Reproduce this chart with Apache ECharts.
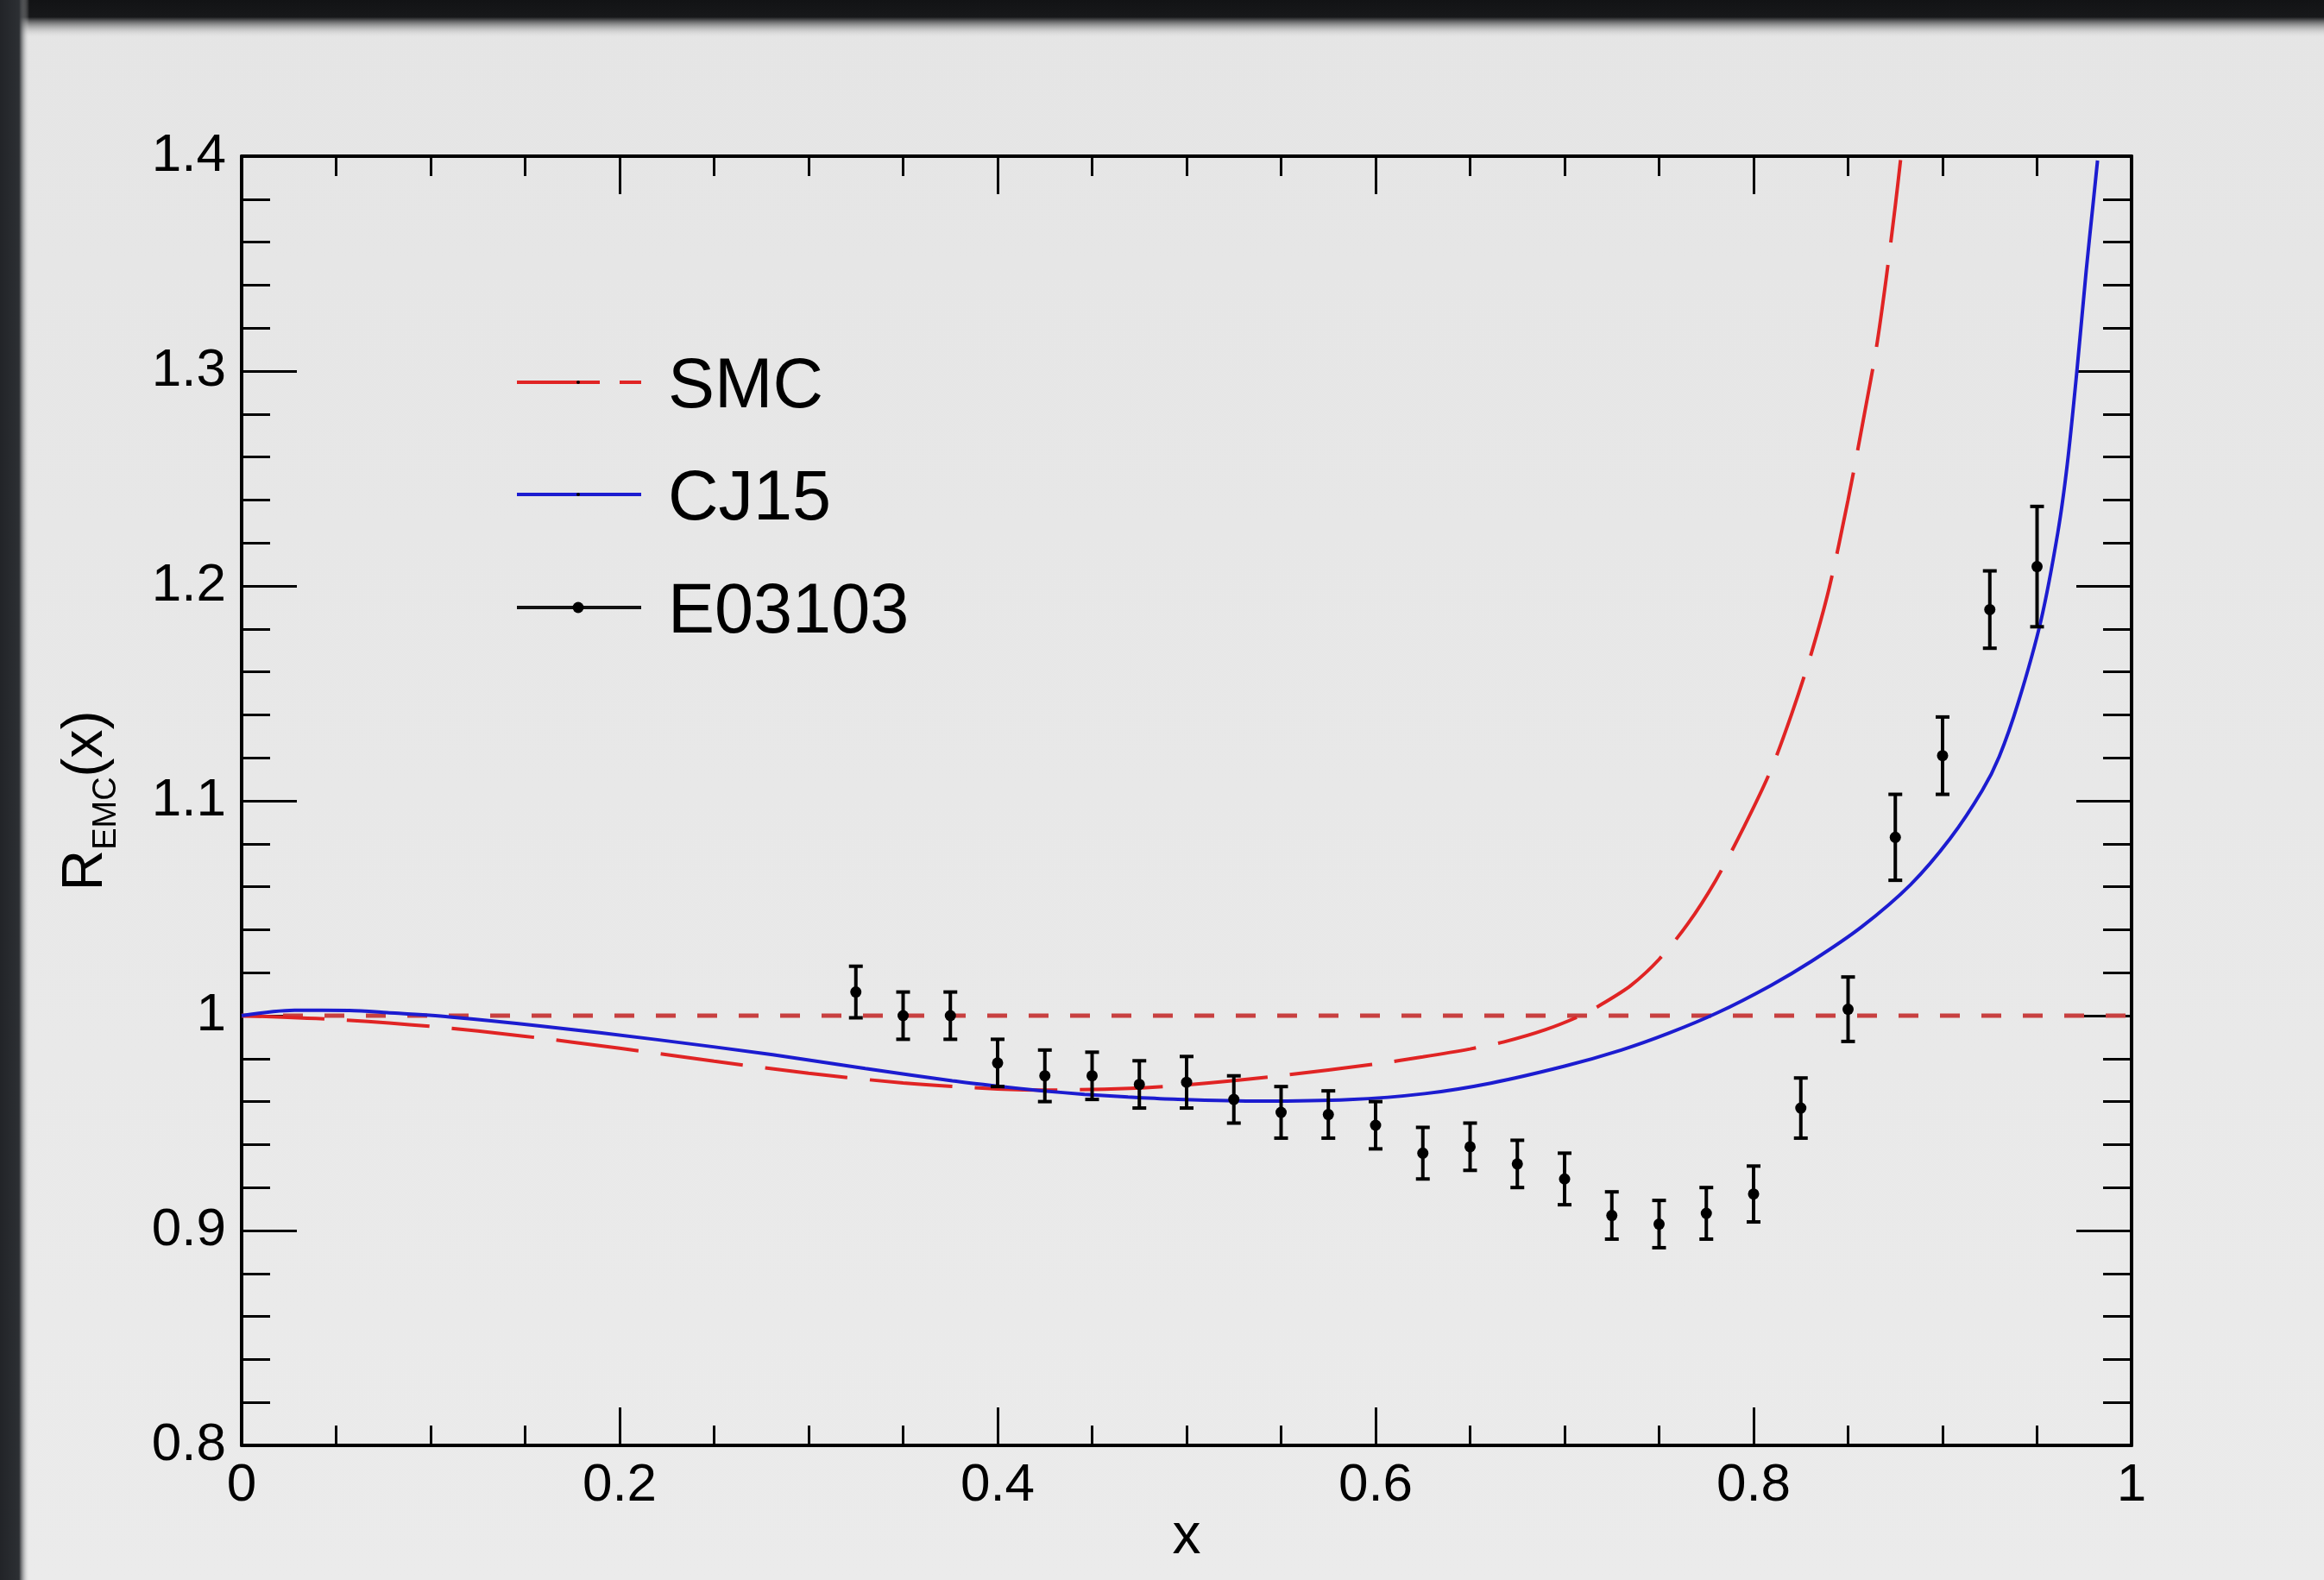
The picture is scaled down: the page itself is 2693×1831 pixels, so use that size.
<!DOCTYPE html>
<html>
<head>
<meta charset="utf-8">
<script src="https://cdn.jsdelivr.net/npm/echarts@6/dist/echarts.min.js"></script>
<style>
  html, body { margin: 0; padding: 0; background: #e8e8e8; }
  #chart { width: 2693px; height: 1831px; }
</style>
</head>
<body>
<div id="chart"></div>
<script>
// R_EMC(x) : SMC / CJ15 curves and E03103 data

const FONT = 'Liberation Sans, Arial, Helvetica, sans-serif';

// SMC curve
const smcX = [0, 0.05, 0.1, 0.15, 0.2, 0.25, 0.3, 0.35, 0.4, 0.43, 0.47, 0.5, 0.55, 0.6, 0.625, 0.65, 0.668, 0.69, 0.709, 0.72, 0.735, 0.75, 0.765, 0.78, 0.795, 0.809, 0.82, 0.83, 0.84, 0.85, 0.858, 0.865, 0.87, 0.875, 0.878];
const smcY = [1.000, 0.9982, 0.9950, 0.9904, 0.9848, 0.9788, 0.9732, 0.9687, 0.9659, 0.9654, 0.9662, 0.9678, 0.9721, 0.9775, 0.9808, 0.9845, 0.9878, 0.9935, 1.0002, 1.0055, 1.0140, 1.0262, 1.0425, 1.0630, 1.0880, 1.1140, 1.1400, 1.1670, 1.1990, 1.2400, 1.2770, 1.3110, 1.3420, 1.3770, 1.4000];

// CJ15 curve
const cjX = [0, 0.028, 0.057, 0.077, 0.110, 0.159, 0.220, 0.281, 0.330, 0.376, 0.400, 0.423, 0.446, 0.469, 0.493, 0.539, 0.586, 0.626, 0.661, 0.700, 0.730, 0.755, 0.781, 0.809, 0.831, 0.857, 0.883, 0.904, 0.921, 0.930, 0.940, 0.952, 0.961, 0.966, 0.971, 0.976, 0.980, 0.982];
const cjY = [1.000, 1.0025, 1.0024, 1.0014, 0.9994, 0.9951, 0.9888, 0.9818, 0.9754, 0.9697, 0.9672, 0.9651, 0.9634, 0.9621, 0.9611, 0.9602, 0.9609, 0.9637, 0.9686, 0.9765, 0.9840, 0.9918, 1.0014, 1.0140, 1.0255, 1.0412, 1.0609, 1.0824, 1.1048, 1.1206, 1.1456, 1.1837, 1.2249, 1.2567, 1.2993, 1.3467, 1.3808, 1.3980];

// E03103 data points with errors
const dataX = [0.325, 0.350, 0.375, 0.400, 0.425, 0.450, 0.475, 0.500, 0.525, 0.550, 0.575, 0.600, 0.625, 0.650, 0.675, 0.700, 0.725, 0.750, 0.775, 0.800, 0.825, 0.850, 0.875, 0.900, 0.925, 0.950];
const dataY = [1.011, 1.000, 1.000, 0.978, 0.972, 0.972, 0.968, 0.969, 0.961, 0.955, 0.954, 0.949, 0.936, 0.939, 0.931, 0.924, 0.907, 0.903, 0.908, 0.917, 0.957, 1.003, 1.083, 1.121, 1.189, 1.209];
const dataErr = [0.012, 0.011, 0.011, 0.011, 0.012, 0.011, 0.011, 0.012, 0.011, 0.012, 0.011, 0.011, 0.012, 0.011, 0.011, 0.012, 0.011, 0.011, 0.012, 0.013, 0.014, 0.015, 0.020, 0.018, 0.018, 0.028];

// reference line R = 1
const refX = [0, 1];
const refY = [1, 1];

const legendNames = ['SMC', 'CJ15', 'E03103'];

const zip = (xs, ys) => xs.map((x, i) => [x, ys[i]]);

const chart = echarts.init(document.getElementById('chart'));

function xAxisCfg(pos) {
    return {
        type: 'value', position: pos, min: 0, max: 1, interval: 0.2,
        axisLine: { show: true, onZero: false, lineStyle: { color: '#000', width: 4 } },
        axisTick: { show: true, inside: true, length: 44, lineStyle: { color: '#000', width: 3 } },
        minorTick: { show: true, splitNumber: 4, length: 23, lineStyle: { color: '#000', width: 3 } },
        axisLabel: { show: pos === 'bottom', color: '#000', fontSize: 62, fontFamily: FONT, margin: 16 },
        splitLine: { show: false },
        name: pos === 'bottom' ? 'x' : '',
        nameLocation: 'middle', nameGap: 74, nameMoveOverlap: false,
        nameTextStyle: { color: '#000', fontSize: 66, fontFamily: FONT }
    };
}

function yAxisCfg(pos) {
    return {
        type: 'value', position: pos, min: 0.8, max: 1.4, interval: 0.1,
        axisLine: { show: true, onZero: false, lineStyle: { color: '#000', width: 4 } },
        axisTick: { show: true, inside: true, length: 64, lineStyle: { color: '#000', width: 3 } },
        minorTick: { show: true, splitNumber: 5, length: 33, lineStyle: { color: '#000', width: 3 } },
        axisLabel: { show: pos === 'left', color: '#000', fontSize: 62, fontFamily: FONT, margin: 18 },
        splitLine: { show: false },
        name: pos === 'left' ? '{a|R}{b|EMC}{a|(x)}' : '',
        nameLocation: 'middle', nameRotate: 90, nameGap: 137,
        nameTextStyle: {
            color: '#000', fontFamily: FONT,
            rich: {
                a: { fontSize: 66, lineHeight: 86, fontFamily: FONT, color: '#000' },
                b: { fontSize: 38, lineHeight: 34, verticalAlign: 'bottom', fontFamily: FONT, color: '#000' }
            }
        }
    };
}

// legend drawn by hand (row positions in px)
const legendRows = [443, 573, 704];
const legendGraphics = [];
legendNames.forEach((name, i) => {
    const y = legendRows[i];
    let lineStyle;
    if (i === 0) lineStyle = { stroke: '#e02424', lineWidth: 4, lineDash: [96, 23] };
    else if (i === 1) lineStyle = { stroke: '#1c1cd0', lineWidth: 4 };
    else lineStyle = { stroke: '#111', lineWidth: 4 };
    legendGraphics.push({ type: 'line', shape: { x1: 599, y1: y, x2: 743, y2: y }, style: lineStyle });
    legendGraphics.push({ type: 'circle', shape: { cx: 670, cy: y, r: i === 2 ? 6.5 : 2 }, style: { fill: '#000' } });
    legendGraphics.push({
        type: 'text', left: 774, top: y - 34,
        style: { text: name, fill: '#000', font: '81px ' + FONT, verticalAlign: 'top' }
    });
});

// screenshot frame (dark edges)
const frame = [
    { type: 'rect', shape: { x: 0, y: 0, width: 2693, height: 44 }, z: 100,
      style: { fill: new echarts.graphic.LinearGradient(0, 0, 0, 1, [
          { offset: 0, color: '#121315' }, { offset: 0.45, color: '#17181a' }, { offset: 1, color: 'rgba(230,230,230,0)' }]) } },
    { type: 'rect', shape: { x: 0, y: 0, width: 34, height: 1831 }, z: 100,
      style: { fill: new echarts.graphic.LinearGradient(0, 0, 1, 0, [
          { offset: 0, color: '#222428' }, { offset: 0.65, color: '#2c2f33' }, { offset: 1, color: 'rgba(230,230,230,0)' }]) } }
];

chart.setOption({
    animation: false,
    backgroundColor: new echarts.graphic.LinearGradient(0, 0, 0, 1, [
        { offset: 0, color: '#e5e5e5' }, { offset: 1, color: '#ebebeb' }]),
    grid: { left: 280, right: 223, top: 181, bottom: 156 },
    xAxis: [xAxisCfg('bottom'), xAxisCfg('top')],
    yAxis: [yAxisCfg('left'), yAxisCfg('right')],
    graphic: legendGraphics.concat(frame),
    series: [
        {
            name: 'ref', type: 'line', data: zip(refX, refY), symbol: 'none', z: 1,
            lineStyle: { color: '#c84040', width: 5, type: [23, 25] }
        },
        {
            name: 'SMC', type: 'line', data: zip(smcX, smcY), symbol: 'none', z: 2,
            smooth: 0.3,
            lineStyle: { color: '#e02424', width: 4, type: [96, 26] }
        },
        {
            name: 'CJ15', type: 'line', data: zip(cjX, cjY), symbol: 'none', z: 3,
            smooth: 0.3,
            lineStyle: { color: '#1c1cd0', width: 4 }
        },
        {
            name: 'E03103', type: 'custom', z: 4,
            data: dataX.map((x, i) => [x, dataY[i], dataErr[i]]),
            renderItem: function (params, api) {
                const x = api.value(0), y = api.value(1), e = api.value(2);
                const p = api.coord([x, y]);
                const hi = api.coord([x, y + e]);
                const lo = api.coord([x, y - e]);
                const cap = 8;
                const st = { stroke: '#000', lineWidth: 4 };
                return {
                    type: 'group',
                    children: [
                        { type: 'line', shape: { x1: p[0], y1: hi[1], x2: p[0], y2: lo[1] }, style: st },
                        { type: 'line', shape: { x1: p[0] - cap, y1: hi[1], x2: p[0] + cap, y2: hi[1] }, style: st },
                        { type: 'line', shape: { x1: p[0] - cap, y1: lo[1], x2: p[0] + cap, y2: lo[1] }, style: st },
                        { type: 'circle', shape: { cx: p[0], cy: p[1], r: 6.5 }, style: { fill: '#000' } }
                    ]
                };
            }
        }
    ]
});
</script>
</body>
</html>
